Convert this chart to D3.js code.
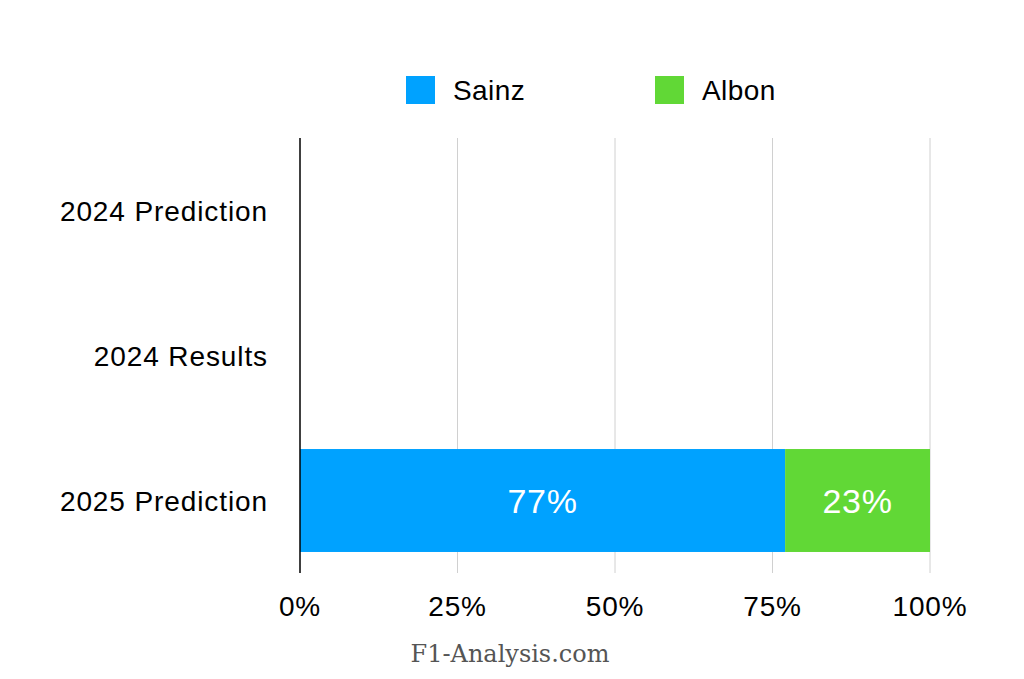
<!DOCTYPE html>
<html>
<head>
<meta charset="utf-8">
<script src="https://cdn.jsdelivr.net/npm/d3@7"></script>
<style>
  body { margin: 0; background: #fff; }
  svg { display: block; font-family: 'Liberation Sans', Arial, sans-serif; }
</style>
</head>
<body>
<svg width="1024" height="679"></svg>
<script>
WIDTH = 1024;
HEIGHT = 679;

const categories = ['2024 Prediction', '2024 Results', '2025 Prediction'];
const drivers = ['Sainz', 'Albon'];
const sainzValues = [null, null, 77];
const albonValues = [null, null, 23];
const xTicks = [0, 25, 50, 75, 100];
const colors = ['#00a2ff', '#61d836'];

function drawChart() {
  const margin = {top: 138, right: 94, bottom: 106, left: 300};
  const width = WIDTH - margin.left - margin.right;
  const height = HEIGHT - margin.top - margin.bottom;

  const svg = d3.select('svg');
  const g = svg.append('g')
    .attr('transform', `translate(${margin.left}, ${margin.top})`);

  const x = d3.scaleLinear().domain([0, 100]).range([0, width]);
  const y = d3.scaleBand()
    .domain(categories)
    .range([0, height])
    .paddingInner(0.29)
    .paddingOuter(0.145);

  // gridlines
  g.selectAll('.grid')
    .data(xTicks.slice(1))
    .join('line')
    .attr('class', 'grid')
    .attr('x1', (d) => x(d))
    .attr('x2', (d) => x(d))
    .attr('y1', 0)
    .attr('y2', height)
    .attr('stroke', '#d0d0d0')
    .attr('stroke-width', 1);

  // stacked rows
  const rows = categories.map((c, i) => ({cat: c, vals: [sainzValues[i], albonValues[i]]}));
  rows.forEach((row) => {
    let start = 0;
    row.vals.forEach((v, j) => {
      if (v == null) return;
      g.append('rect')
        .attr('x', x(start))
        .attr('y', y(row.cat))
        .attr('width', x(start + v) - x(start))
        .attr('height', y.bandwidth())
        .attr('fill', colors[j]);
      g.append('text')
        .attr('x', x(start + v / 2))
        .attr('y', y(row.cat) + y.bandwidth() / 2)
        .attr('dy', '0.36em')
        .attr('text-anchor', 'middle')
        .attr('fill', '#fff')
        .attr('font-size', 34)
        .attr('letter-spacing', 0.6)
        .text(`${v}%`);
      start += v;
    });
  });

  // y axis line
  g.append('line')
    .attr('x1', 0).attr('x2', 0)
    .attr('y1', 0).attr('y2', height)
    .attr('stroke', '#000')
    .attr('stroke-width', 1.5);

  // category labels
  g.selectAll('.cat')
    .data(categories)
    .join('text')
    .attr('class', 'cat')
    .attr('x', -32)
    .attr('y', (d) => y(d) + y.bandwidth() / 2)
    .attr('dy', '0.36em')
    .attr('text-anchor', 'end')
    .attr('font-size', 28)
    .attr('letter-spacing', 0.9)
    .text((d) => d);

  // x tick labels
  g.selectAll('.tick-label')
    .data(xTicks)
    .join('text')
    .attr('class', 'tick-label')
    .attr('x', (d) => x(d))
    .attr('y', height + 43)
    .attr('text-anchor', 'middle')
    .attr('font-size', 28)
    .attr('letter-spacing', 0.8)
    .text((d) => `${d}%`);

  // legend
  const legendX = [406, 655];
  const legend = svg.selectAll('.legend')
    .data(drivers)
    .join('g')
    .attr('class', 'legend')
    .attr('transform', (_, i) => `translate(${legendX[i]}, 76)`);
  legend.append('rect')
    .attr('width', 29)
    .attr('height', 28)
    .attr('fill', (_, i) => colors[i]);
  legend.append('text')
    .attr('x', 47)
    .attr('y', 14)
    .attr('dy', '0.36em')
    .attr('font-size', 28)
    .attr('letter-spacing', 0.4)
    .text((d) => d);

  // watermark
  svg.append('text')
    .attr('x', 510)
    .attr('y', 662)
    .attr('text-anchor', 'middle')
    .attr('font-family', "'DejaVu Serif', serif")
    .attr('font-size', 24)
    .attr('fill', '#555')
    .text('F1-Analysis.com');
}

drawChart();
</script>
</body>
</html>
